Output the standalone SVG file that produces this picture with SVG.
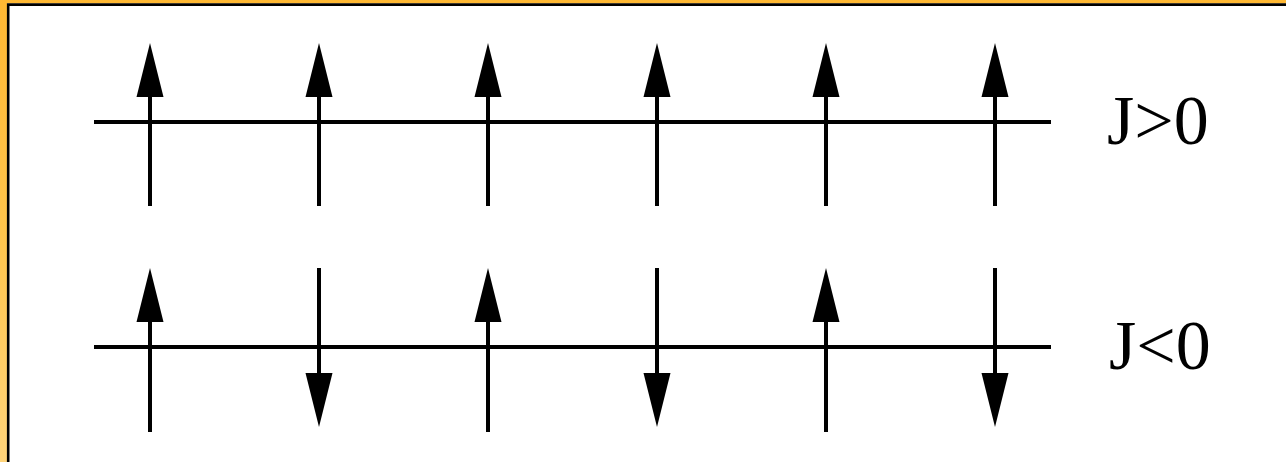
<svg xmlns="http://www.w3.org/2000/svg" width="1286" height="462" viewBox="0 0 1286 462">
  <defs>
    <linearGradient id="frameGrad" x1="0" y1="0" x2="0" y2="1">
      <stop offset="0" stop-color="#FFB833"/>
      <stop offset="0.5" stop-color="#FFC54C"/>
      <stop offset="1" stop-color="#FFD47A"/>
    </linearGradient>
    <style>
      .axis { stroke: #000; stroke-width: 4; fill: none; }
      .spin { stroke: #000; stroke-width: 4; fill: none; }
      .head { fill: #000; stroke: none; }
      .label { font-family: "Liberation Serif", "Times New Roman", serif; font-size: 70px; fill: #000; }
    </style>
  </defs>
  <rect x="0" y="0" width="1286" height="462" fill="url(#frameGrad)"/>
  <rect x="7" y="3.3" width="1279" height="458.7" fill="#FFFFFF"/>
  <path d="M8.2,462 V4.6 H1286" stroke="#000" stroke-width="2.6" fill="none"/>

  <g id="connectors">
    <line class="axis" x1="94" y1="122" x2="1051" y2="122"/>
    <line class="axis" x1="94" y1="347" x2="1051" y2="347"/>
  </g>

  <g id="row-ferro">
    <g id="spin-1-1"><line class="spin" x1="150" y1="95" x2="150" y2="206"/><polygon class="head" points="150,43 136.5,97 163.5,97"/></g>
    <g id="spin-1-2"><line class="spin" x1="319" y1="95" x2="319" y2="206"/><polygon class="head" points="319,43 305.5,97 332.5,97"/></g>
    <g id="spin-1-3"><line class="spin" x1="488" y1="95" x2="488" y2="206"/><polygon class="head" points="488,43 474.5,97 501.5,97"/></g>
    <g id="spin-1-4"><line class="spin" x1="657" y1="95" x2="657" y2="206"/><polygon class="head" points="657,43 643.5,97 670.5,97"/></g>
    <g id="spin-1-5"><line class="spin" x1="826" y1="95" x2="826" y2="206"/><polygon class="head" points="826,43 812.5,97 839.5,97"/></g>
    <g id="spin-1-6"><line class="spin" x1="995" y1="95" x2="995" y2="206"/><polygon class="head" points="995,43 981.5,97 1008.5,97"/></g>
  </g>

  <g id="row-antiferro">
    <g id="spin-2-1"><line class="spin" x1="150" y1="320" x2="150" y2="432"/><polygon class="head" points="150,268 136.5,322 163.5,322"/></g>
    <g id="spin-2-2"><line class="spin" x1="319" y1="268" x2="319" y2="375"/><polygon class="head" points="319,427 305.5,373 332.5,373"/></g>
    <g id="spin-2-3"><line class="spin" x1="488" y1="320" x2="488" y2="432"/><polygon class="head" points="488,268 474.5,322 501.5,322"/></g>
    <g id="spin-2-4"><line class="spin" x1="657" y1="268" x2="657" y2="375"/><polygon class="head" points="657,427 643.5,373 670.5,373"/></g>
    <g id="spin-2-5"><line class="spin" x1="826" y1="320" x2="826" y2="432"/><polygon class="head" points="826,268 812.5,322 839.5,322"/></g>
    <g id="spin-2-6"><line class="spin" x1="995" y1="268" x2="995" y2="375"/><polygon class="head" points="995,427 981.5,373 1008.5,373"/></g>
  </g>

  <g id="label-ferro"><text class="label" x="1107" y="144">J&gt;0</text></g>
  <g id="label-antiferro"><text class="label" x="1109" y="369">J&lt;0</text></g>
</svg>
